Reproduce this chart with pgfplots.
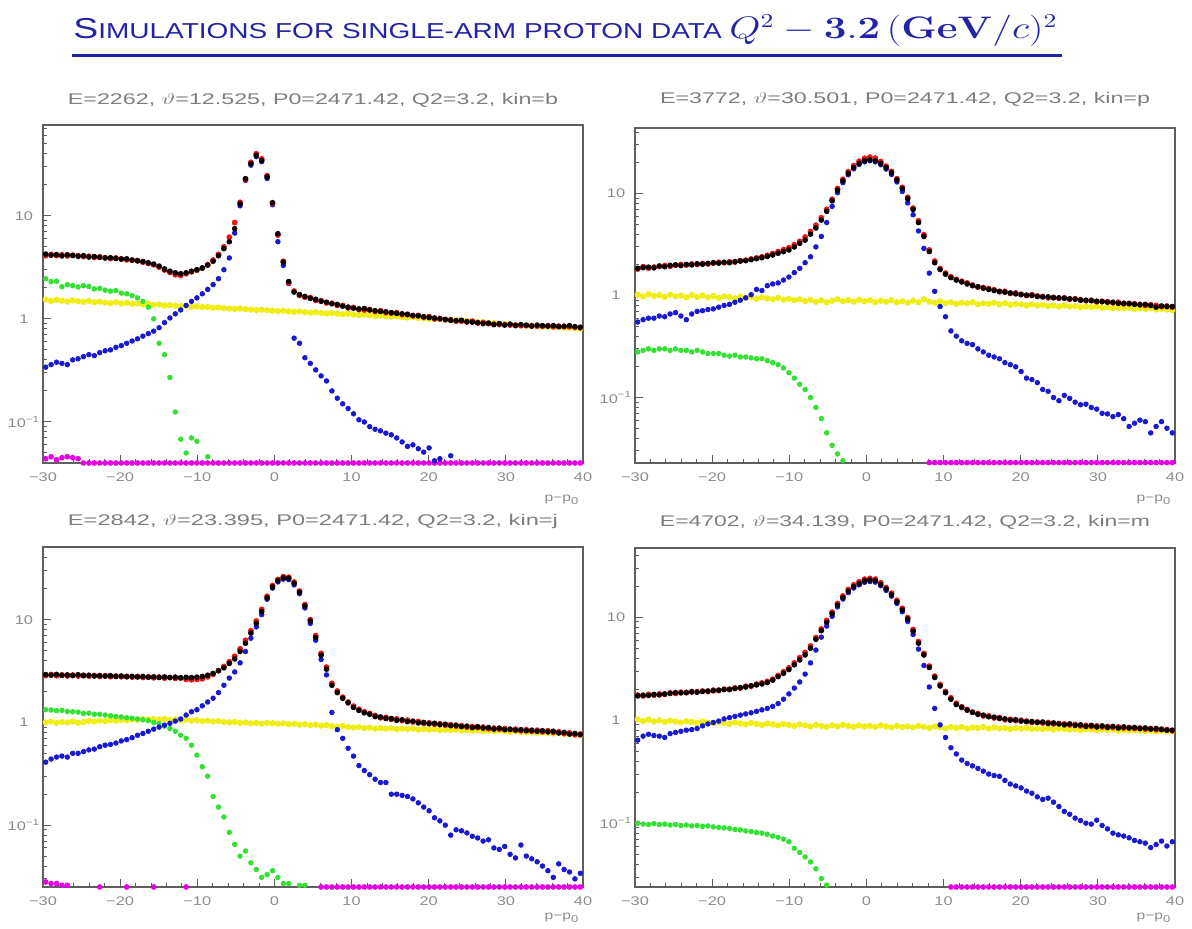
\documentclass[border=0pt]{standalone}
\usepackage{pgfplots}
\usepackage{pgfplotstable}
\pgfplotsset{compat=1.18}
\usepackage[no-math]{fontspec}
\setmainfont{Liberation Sans}
\definecolor{titleblue}{RGB}{35,35,165}
\definecolor{labgray}{RGB}{140,140,140}
\definecolor{subgray}{RGB}{125,125,125}
\definecolor{framegray}{RGB}{95,95,95}
\definecolor{cblk}{RGB}{10,0,0}
\definecolor{cred}{RGB}{240,20,20}
\definecolor{cblu}{RGB}{25,25,210}
\definecolor{cgrn}{RGB}{50,225,50}
\definecolor{cylw}{RGB}{238,238,20}
\definecolor{cmag}{RGB}{230,0,230}
\newcommand{\tl}[1]{\scalebox{1.3}[1]{#1}}
\newcommand{\subt}[1]{\resizebox{245pt}{5.6pt}{\color{subgray}#1}}

\pgfplotstableread{
x k r yl b g m
-29.65 4.25 4.10 1.54 0.34 2.45 0.044
-28.95 4.15 4.22 1.49 0.36 2.30 0.046
-28.25 4.20 4.12 1.53 0.38 2.32 0.043
-27.55 4.08 4.18 1.50 0.37 2.05 0.045
-26.85 4.18 4.08 1.47 0.36 2.15 0.046
-26.15 4.12 4.14 1.51 0.40 2.10 0.045
-25.45 4.05 4.10 1.48 0.41 2.04 0.044
-24.75 4.10 4.02 1.46 0.43 2.10 0.040
-24.05 3.98 4.05 1.49 0.45 2.06 0.040
-23.35 4.02 3.95 1.45 0.44 1.95 0.040
-22.65 3.95 4.00 1.47 0.47 1.98 0.040
-21.95 3.90 3.92 1.44 0.49 1.90 0.040
-21.25 3.92 3.85 1.42 0.50 1.86 0.040
-20.55 3.85 3.90 1.45 0.53 1.88 0.040
-19.85 3.80 3.82 1.41 0.55 1.78 0.040
-19.15 3.82 3.74 1.43 0.58 1.75 0.040
-18.45 3.72 3.70 1.40 0.61 1.68 0.040
-17.75 3.65 3.68 1.41 0.64 1.60 0.040
-17.05 3.60 3.55 1.38 0.68 1.48 0.040
-16.35 3.50 3.45 1.40 0.72 1.30 0.040
-15.65 3.40 3.35 1.37 0.76 1.00 0.040
-14.95 3.25 3.18 1.38 0.82 0.58 0.040
-14.25 3.05 2.98 1.35 0.92 0.45 0.040
-13.55 2.90 2.82 1.36 1.02 0.27 0.040
-12.85 2.80 2.68 1.34 1.12 0.125 0.040
-12.15 2.74 2.64 1.33 1.22 0.068 0.040
-11.45 2.80 2.74 1.34 1.35 0.050 0.040
-10.75 2.90 2.86 1.31 1.48 0.070 0.040
-10.05 3.00 2.96 1.32 1.60 0.065 0.040
-9.35 3.12 3.10 1.30 1.75 nan 0.040
-8.65 3.32 3.36 1.30 1.93 0.046 0.040
-7.95 3.62 3.72 1.28 2.15 nan 0.040
-7.25 4.10 4.22 1.29 2.45 nan 0.040
-6.55 4.80 5.00 1.27 3.00 nan 0.040
-5.85 5.60 6.20 1.26 3.90 nan 0.040
-5.15 7.50 8.60 1.25 6.80 nan 0.040
-4.45 13.1 13.5 1.26 12.5 nan 0.040
-3.75 22.9 22.4 1.24 22.0 nan 0.040
-3.05 32.0 33.0 1.23 31.0 nan 0.040
-2.35 38.5 40.0 1.22 37.5 nan 0.040
-1.65 34.4 35.6 1.23 33.5 nan 0.040
-0.95 23.8 24.5 1.21 23.0 nan 0.040
-0.25 13.4 13.2 1.20 12.8 nan 0.040
0.45 6.70 6.50 1.19 5.60 nan 0.040
1.15 3.55 3.62 1.20 3.30 nan 0.040
1.85 2.30 2.24 1.18 2.20 nan 0.040
2.55 1.82 1.86 1.17 0.65 nan 0.040
3.25 1.72 1.69 1.18 0.58 nan 0.040
3.95 1.65 1.62 1.16 0.42 nan 0.040
4.65 1.58 1.61 1.15 0.37 nan 0.040
5.35 1.55 1.51 1.16 0.32 nan 0.040
6.05 1.48 1.50 1.14 0.28 nan 0.040
6.75 1.45 1.43 1.13 0.25 nan 0.040
7.45 1.40 1.42 1.14 0.20 nan 0.040
8.15 1.38 1.35 1.12 0.17 nan 0.040
8.85 1.33 1.35 1.11 0.15 nan 0.040
9.55 1.30 1.28 1.12 0.135 nan 0.040
10.25 1.27 1.29 1.10 0.12 nan 0.040
10.95 1.25 1.23 1.09 0.105 nan 0.040
11.65 1.26 1.22 1.10 0.10 nan 0.040
12.35 1.22 1.23 1.08 0.09 nan 0.040
13.05 1.20 1.18 1.07 0.085 nan 0.040
13.75 1.18 1.20 1.08 0.082 nan 0.040
14.45 1.17 1.15 1.06 0.078 nan 0.040
15.15 1.15 1.14 1.05 0.075 nan 0.040
15.85 1.13 1.15 1.06 0.070 nan 0.040
16.55 1.12 1.10 1.04 0.064 nan 0.040
17.25 1.10 1.11 1.03 0.058 nan 0.040
17.95 1.08 1.07 1.04 0.060 nan 0.040
18.65 1.07 1.08 1.02 0.055 nan 0.040
19.35 1.05 1.04 1.01 0.051 nan 0.040
20.05 1.03 1.05 1.00 0.056 nan 0.040
20.75 1.02 1.00 1.00 0.042 nan 0.040
21.45 1.00 1.01 0.99 0.044 nan 0.040
22.15 0.99 0.98 0.98 nan nan 0.040
22.85 0.97 0.98 0.97 0.047 nan 0.040
23.55 0.96 0.95 0.97 nan nan 0.040
24.25 0.97 0.95 0.95 nan nan 0.040
24.95 0.94 0.93 0.96 nan nan 0.040
25.65 0.93 0.95 0.94 nan nan 0.040
26.35 0.92 0.91 0.93 nan nan 0.040
27.05 0.90 0.92 0.93 nan nan 0.040
27.75 0.91 0.90 0.91 nan nan 0.040
28.45 0.88 0.89 0.91 nan nan 0.040
29.15 0.90 0.88 0.89 nan nan 0.040
29.85 0.87 0.88 0.89 nan nan 0.040
30.55 0.89 0.87 0.88 nan nan 0.040
31.25 0.86 0.87 0.87 nan nan 0.040
31.95 0.88 0.86 0.87 nan nan 0.040
32.65 0.87 0.86 0.86 nan nan 0.040
33.35 0.85 0.86 0.85 nan nan 0.040
34.05 0.87 0.85 0.85 nan nan 0.040
34.75 0.86 0.85 0.84 nan nan 0.040
35.45 0.85 0.86 0.84 nan nan 0.040
36.15 0.86 0.84 0.83 nan nan 0.040
36.85 0.84 0.85 0.83 nan nan 0.040
37.55 0.85 0.84 0.82 nan nan 0.040
38.25 0.86 0.84 0.82 nan nan 0.040
38.95 0.84 0.83 0.81 nan nan 0.040
39.65 0.83 0.82 0.80 nan nan 0.040
}\TLdata

\pgfplotstableread{
x k r yl b g m
-29.65 1.85 1.82 1.02 0.55 0.28 nan
-28.95 1.88 1.92 0.98 0.58 0.29 nan
-28.25 1.90 1.86 1.03 0.60 0.30 nan
-27.55 1.87 1.90 0.99 0.60 0.29 nan
-26.85 1.95 1.93 1.01 0.63 0.30 nan
-26.15 1.92 1.97 0.97 0.62 0.30 nan
-25.45 1.98 1.94 1.02 0.66 0.29 nan
-24.75 2.00 1.98 0.98 0.68 0.30 nan
-24.05 1.97 2.02 1.00 0.63 0.29 nan
-23.35 2.02 1.99 0.96 0.58 0.29 nan
-22.65 2.00 2.04 1.01 0.66 0.28 nan
-21.95 2.05 2.02 0.97 0.70 0.29 nan
-21.25 2.03 2.06 1.00 0.71 0.28 nan
-20.55 2.07 2.04 0.96 0.73 0.27 nan
-19.85 2.10 2.08 0.99 0.74 0.27 nan
-19.15 2.08 2.12 0.95 0.77 0.27 nan
-18.45 2.12 2.10 0.98 0.80 0.26 nan
-17.75 2.10 2.14 0.97 0.82 0.255 nan
-17.05 2.15 2.13 0.94 0.86 0.26 nan
-16.35 2.18 2.20 0.98 0.90 0.25 nan
-15.65 2.20 2.22 0.95 0.95 0.25 nan
-14.95 2.25 2.28 0.97 1.02 0.245 nan
-14.25 2.30 2.34 0.93 1.15 0.24 nan
-13.55 2.35 2.40 0.96 1.12 0.24 nan
-12.85 2.42 2.48 0.94 1.25 0.23 nan
-12.15 2.50 2.58 0.92 1.30 0.22 nan
-11.45 2.60 2.70 0.95 1.33 0.21 nan
-10.75 2.70 2.82 0.91 1.42 0.195 nan
-10.05 2.80 2.95 0.93 1.52 0.175 nan
-9.35 3.00 3.15 0.90 1.68 0.155 nan
-8.65 3.25 3.40 0.92 1.85 0.135 nan
-7.95 3.50 3.75 0.88 2.10 0.12 nan
-7.25 4.00 4.25 0.91 2.40 0.10 nan
-6.55 4.60 4.90 0.87 3.00 0.08 nan
-5.85 5.50 5.80 0.90 3.80 0.062 nan
-5.15 6.70 7.00 0.86 5.20 0.045 nan
-4.45 8.50 8.80 0.89 7.50 0.034 nan
-3.75 10.8 11.2 0.92 10.2 0.028 nan
-3.05 13.3 13.8 0.88 12.8 0.024 nan
-2.35 15.8 16.4 0.90 15.3 nan nan
-1.65 18.0 18.8 0.87 17.5 nan nan
-0.95 19.8 20.8 0.91 19.3 nan nan
-0.25 21.0 22.2 0.88 20.5 nan nan
0.45 21.5 22.8 0.90 21.0 nan nan
1.15 21.0 22.3 0.86 20.5 nan nan
1.85 19.8 20.6 0.89 19.2 nan nan
2.55 18.0 18.6 0.87 17.4 nan nan
3.25 16.0 16.5 0.90 15.4 nan nan
3.95 13.6 14.0 0.86 13.0 nan nan
4.65 11.2 11.5 0.88 10.5 nan nan
5.35 8.90 9.20 0.85 8.10 nan nan
6.05 7.00 7.20 0.89 6.20 nan nan
6.75 5.20 5.40 0.86 4.30 nan nan
7.45 3.80 3.95 0.92 2.90 nan nan
8.15 2.70 2.80 0.87 1.66 nan 0.023
8.85 2.10 2.18 0.85 1.10 nan 0.023
9.55 1.80 1.84 0.88 0.78 nan 0.023
10.25 1.62 1.66 0.84 0.62 nan 0.023
10.95 1.50 1.53 0.86 0.45 nan 0.023
11.65 1.42 1.44 0.83 0.40 nan 0.023
12.35 1.36 1.38 0.85 0.36 nan 0.023
13.05 1.30 1.33 0.84 0.34 nan 0.023
13.75 1.25 1.27 0.86 0.33 nan 0.023
14.45 1.22 1.21 0.82 0.30 nan 0.023
15.15 1.18 1.20 0.84 0.28 nan 0.023
15.85 1.15 1.17 0.83 0.26 nan 0.023
16.55 1.12 1.14 0.85 0.25 nan 0.023
17.25 1.10 1.09 0.82 0.24 nan 0.023
17.95 1.08 1.10 0.84 0.22 nan 0.023
18.65 1.06 1.05 0.81 0.21 nan 0.023
19.35 1.04 1.06 0.83 0.20 nan 0.023
20.05 1.02 1.03 0.82 0.18 nan 0.023
20.75 1.01 1.00 0.80 0.155 nan 0.023
21.45 1.00 1.02 0.82 0.15 nan 0.023
22.15 0.98 0.99 0.80 0.14 nan 0.023
22.85 0.97 0.98 0.81 0.12 nan 0.023
23.55 0.97 0.95 0.79 0.115 nan 0.023
24.25 0.95 0.96 0.80 0.10 nan 0.023
24.95 0.95 0.94 0.78 0.093 nan 0.023
25.65 0.94 0.95 0.80 0.105 nan 0.023
26.35 0.93 0.92 0.78 0.098 nan 0.023
27.05 0.92 0.93 0.79 0.09 nan 0.023
27.75 0.90 0.91 0.77 0.085 nan 0.023
28.45 0.90 0.89 0.78 0.086 nan 0.023
29.15 0.89 0.90 0.77 0.08 nan 0.023
29.85 0.88 0.87 0.78 0.077 nan 0.023
30.55 0.87 0.88 0.76 0.07 nan 0.023
31.25 0.86 0.87 0.77 0.069 nan 0.023
31.95 0.86 0.85 0.75 0.065 nan 0.023
32.65 0.84 0.86 0.76 0.068 nan 0.023
33.35 0.84 0.83 0.75 0.062 nan 0.023
34.05 0.83 0.84 0.76 0.052 nan 0.023
34.75 0.82 0.83 0.74 0.056 nan 0.023
35.45 0.81 0.82 0.75 0.06 nan 0.023
36.15 0.82 0.80 0.74 0.058 nan 0.023
36.85 0.80 0.81 0.75 0.045 nan 0.023
37.55 0.77 0.80 0.73 0.052 nan 0.023
38.25 0.79 0.78 0.74 0.058 nan 0.023
38.95 0.78 0.79 0.73 0.05 nan 0.023
39.65 0.78 0.77 0.72 0.045 nan 0.023
}\TRdata

\pgfplotstableread{
x k r yl b g m
-29.65 2.92 2.86 1.00 0.41 1.33 0.028
-28.95 2.88 2.92 1.02 0.44 1.32 0.027
-28.25 2.93 2.85 0.99 0.46 1.30 0.027
-27.55 2.87 2.90 1.01 0.47 1.31 0.026
-26.85 2.90 2.84 1.00 0.46 1.28 0.026
-26.15 2.86 2.89 1.02 0.50 1.27 nan
-25.45 2.91 2.83 0.99 0.50 1.26 nan
-24.75 2.85 2.88 1.01 0.52 1.22 nan
-24.05 2.88 2.82 1.03 0.54 1.23 nan
-23.35 2.83 2.86 1.02 0.55 1.20 nan
-22.65 2.86 2.80 1.04 0.58 1.20 0.025
-21.95 2.82 2.85 1.03 0.60 1.18 nan
-21.25 2.85 2.79 1.05 0.61 1.16 nan
-20.55 2.80 2.83 1.04 0.63 1.14 nan
-19.85 2.83 2.78 1.06 0.66 1.13 nan
-19.15 2.78 2.81 1.05 0.68 1.11 0.025
-18.45 2.81 2.76 1.07 0.71 1.10 nan
-17.75 2.77 2.80 1.06 0.75 1.08 nan
-17.05 2.80 2.74 1.08 0.78 1.06 nan
-16.35 2.75 2.78 1.07 0.82 1.04 nan
-15.65 2.78 2.72 1.08 0.86 1.00 0.025
-14.95 2.74 2.76 1.07 0.90 0.97 nan
-14.25 2.77 2.70 1.08 0.94 0.92 nan
-13.55 2.73 2.74 1.06 0.98 0.87 nan
-12.85 2.76 2.68 1.07 1.03 0.82 nan
-12.15 2.72 2.70 1.05 1.08 0.75 nan
-11.45 2.75 2.62 1.06 1.18 0.70 0.025
-10.75 2.73 2.60 1.04 1.27 0.60 nan
-10.05 2.76 2.62 1.05 1.33 0.48 nan
-9.35 2.80 2.66 1.03 1.45 0.37 nan
-8.65 2.88 2.78 1.04 1.58 0.30 nan
-7.95 3.00 2.94 1.02 1.72 0.19 nan
-7.25 3.18 3.20 1.03 1.95 0.15 nan
-6.55 3.40 3.50 1.01 2.30 0.12 nan
-5.85 3.75 3.90 1.00 2.70 0.085 nan
-5.15 4.15 4.40 1.01 3.10 0.065 nan
-4.45 4.90 5.20 0.99 3.80 0.050 nan
-3.75 5.90 6.30 1.00 4.90 0.056 nan
-3.05 7.40 7.80 0.98 6.60 0.043 nan
-2.35 9.20 9.70 0.99 8.50 0.037 nan
-1.65 12.0 12.6 0.97 11.2 0.031 nan
-0.95 16.3 16.9 0.99 15.8 0.033 nan
-0.25 20.8 21.5 0.98 20.3 0.036 nan
0.45 24.0 24.6 0.97 23.3 0.031 nan
1.15 25.5 26.2 0.98 24.8 0.027 nan
1.85 25.3 25.9 0.96 24.5 0.027 nan
2.55 22.6 23.2 0.97 21.8 nan nan
3.25 18.5 19.0 0.95 17.9 0.026 nan
3.95 13.6 14.0 0.96 13.0 0.026 nan
4.65 9.70 10.0 0.94 9.20 nan nan
5.35 6.70 7.00 0.95 6.30 nan nan
6.05 4.50 4.70 0.93 4.10 nan 0.025
6.75 3.30 3.45 0.94 2.90 nan 0.025
7.45 2.30 2.40 0.92 1.25 nan 0.025
8.15 1.95 2.02 0.91 0.85 nan 0.025
8.85 1.72 1.76 0.92 0.70 nan 0.025
9.55 1.55 1.58 0.90 0.56 nan 0.025
10.25 1.40 1.44 0.89 0.47 nan 0.025
10.95 1.31 1.34 0.90 0.38 nan 0.025
11.65 1.24 1.27 0.88 0.34 nan 0.025
12.35 1.20 1.22 0.89 0.31 nan 0.025
13.05 1.14 1.17 0.87 0.28 nan 0.025
13.75 1.13 1.11 0.88 0.26 nan 0.025
14.45 1.09 1.12 0.87 0.26 nan 0.025
15.15 1.09 1.07 0.88 0.20 nan 0.025
15.85 1.05 1.08 0.86 0.20 nan 0.025
16.55 1.06 1.04 0.87 0.195 nan 0.025
17.25 1.02 1.05 0.86 0.19 nan 0.025
17.95 1.03 1.01 0.87 0.18 nan 0.025
18.65 0.99 1.02 0.85 0.165 nan 0.025
19.35 1.00 0.98 0.86 0.15 nan 0.025
20.05 0.97 0.99 0.85 0.138 nan 0.025
20.75 0.98 0.96 0.86 0.118 nan 0.025
21.45 0.95 0.97 0.84 0.11 nan 0.025
22.15 0.96 0.94 0.85 0.10 nan 0.025
22.85 0.93 0.95 0.84 0.08 nan 0.025
23.55 0.94 0.92 0.85 0.09 nan 0.025
24.25 0.91 0.93 0.83 0.088 nan 0.025
24.95 0.92 0.90 0.84 0.084 nan 0.025
25.65 0.89 0.91 0.83 0.078 nan 0.025
26.35 0.91 0.89 0.84 0.075 nan 0.025
27.05 0.88 0.90 0.82 0.07 nan 0.025
27.75 0.89 0.87 0.83 0.072 nan 0.025
28.45 0.86 0.88 0.82 0.06 nan 0.025
29.15 0.88 0.86 0.83 0.058 nan 0.025
29.85 0.85 0.87 0.82 0.062 nan 0.025
30.55 0.86 0.85 0.81 0.052 nan 0.025
31.25 0.84 0.86 0.82 0.048 nan 0.025
31.95 0.85 0.83 0.81 0.064 nan 0.025
32.65 0.83 0.85 0.80 0.05 nan 0.025
33.35 0.84 0.82 0.81 0.047 nan 0.025
34.05 0.82 0.84 0.79 0.044 nan 0.025
34.75 0.83 0.81 0.80 0.04 nan 0.025
35.45 0.81 0.83 0.79 0.036 nan 0.025
36.15 0.82 0.80 0.78 0.031 nan 0.025
36.85 0.79 0.81 0.79 0.042 nan 0.025
37.55 0.80 0.78 0.77 0.037 nan 0.025
38.25 0.77 0.79 0.77 0.035 nan 0.025
38.95 0.78 0.76 0.76 0.03 nan 0.025
39.65 0.76 0.77 0.75 0.034 nan 0.025
}\BLdata

\pgfplotstableread{
x k r yl b g m
-29.65 1.72 1.75 1.02 0.64 0.100 nan
-28.95 1.75 1.72 0.98 0.70 0.098 nan
-28.25 1.74 1.78 1.01 0.73 0.097 nan
-27.55 1.78 1.75 0.97 0.71 0.099 nan
-26.85 1.76 1.80 1.00 0.70 0.097 nan
-26.15 1.80 1.78 0.96 0.68 0.098 nan
-25.45 1.82 1.84 0.99 0.74 0.096 nan
-24.75 1.85 1.82 0.97 0.76 0.097 nan
-24.05 1.84 1.87 0.95 0.78 0.095 nan
-23.35 1.86 1.85 0.98 0.80 0.096 nan
-22.65 1.88 1.90 0.96 0.81 0.094 nan
-21.95 1.87 1.89 0.94 0.83 0.095 nan
-21.25 1.90 1.92 0.97 0.88 0.093 nan
-20.55 1.92 1.90 0.95 0.92 0.094 nan
-19.85 1.93 1.96 0.93 0.95 0.092 nan
-19.15 1.96 1.94 0.96 0.98 0.091 nan
-18.45 1.98 2.00 0.94 1.03 0.090 nan
-17.75 2.00 1.98 0.92 1.06 0.089 nan
-17.05 2.03 2.06 0.95 1.09 0.087 nan
-16.35 2.07 2.05 0.93 1.12 0.086 nan
-15.65 2.10 2.14 0.91 1.15 0.084 nan
-14.95 2.16 2.14 0.94 1.18 0.083 nan
-14.25 2.20 2.24 0.92 1.22 0.081 nan
-13.55 2.25 2.30 0.90 1.26 0.080 nan
-12.85 2.32 2.38 0.93 1.30 0.078 nan
-12.15 2.45 2.50 0.91 1.36 0.075 nan
-11.45 2.65 2.72 0.89 1.45 0.073 nan
-10.75 2.85 2.95 0.92 1.60 0.070 nan
-10.05 3.10 3.22 0.90 1.80 0.066 nan
-9.35 3.45 3.60 0.88 2.05 0.057 nan
-8.65 3.85 4.05 0.91 2.35 0.052 nan
-7.95 4.30 4.55 0.89 2.80 0.047 nan
-7.25 5.00 5.25 0.87 3.60 0.042 nan
-6.55 6.10 6.35 0.90 4.80 0.036 nan
-5.85 7.40 7.70 0.88 6.40 0.029 nan
-5.15 8.90 9.30 0.86 8.20 0.025 nan
-4.45 10.8 11.2 0.89 10.2 nan nan
-3.75 13.1 13.6 0.87 12.6 nan nan
-3.05 15.5 16.1 0.90 15.0 nan nan
-2.35 17.9 18.6 0.88 17.3 nan nan
-1.65 19.8 20.6 0.86 19.2 nan nan
-0.95 21.2 22.1 0.89 20.6 nan nan
-0.25 22.5 23.4 0.87 21.8 nan nan
0.45 22.9 23.8 0.88 22.2 nan nan
1.15 22.6 23.4 0.86 21.9 nan nan
1.85 20.8 21.6 0.89 20.2 nan nan
2.55 18.8 19.4 0.87 18.2 nan nan
3.25 16.6 17.1 0.85 16.0 nan nan
3.95 14.1 14.6 0.88 13.6 nan nan
4.65 11.8 12.2 0.86 11.3 nan nan
5.35 9.60 9.90 0.87 9.10 nan nan
6.05 7.30 7.60 0.85 6.80 nan nan
6.75 5.60 5.80 0.88 4.90 nan nan
7.45 4.30 4.45 0.86 3.40 nan nan
8.15 3.25 3.35 0.84 2.10 nan nan
8.85 2.60 2.68 0.87 1.30 nan nan
9.55 2.15 2.22 0.85 0.90 nan nan
10.25 1.85 1.90 0.83 0.68 nan nan
10.95 1.60 1.65 0.86 0.54 nan 0.024
11.65 1.42 1.46 0.84 0.47 nan 0.024
12.35 1.33 1.35 0.86 0.41 nan 0.024
13.05 1.25 1.27 0.83 0.38 nan 0.024
13.75 1.19 1.20 0.85 0.36 nan 0.024
14.45 1.14 1.16 0.84 0.34 nan 0.024
15.15 1.12 1.10 0.86 0.32 nan 0.024
15.85 1.08 1.10 0.83 0.30 nan 0.024
16.55 1.07 1.05 0.85 0.29 nan 0.024
17.25 1.04 1.06 0.83 0.285 nan 0.024
17.95 1.03 1.01 0.84 0.26 nan 0.024
18.65 1.00 1.02 0.82 0.24 nan 0.024
19.35 1.01 0.99 0.84 0.23 nan 0.024
20.05 0.98 1.00 0.83 0.22 nan 0.024
20.75 0.97 0.98 0.84 0.205 nan 0.024
21.45 0.97 0.95 0.82 0.195 nan 0.024
22.15 0.95 0.96 0.83 0.18 nan 0.024
22.85 0.96 0.94 0.82 0.17 nan 0.024
23.55 0.93 0.95 0.83 0.175 nan 0.024
24.25 0.94 0.92 0.81 0.16 nan 0.024
24.95 0.92 0.93 0.83 0.145 nan 0.024
25.65 0.90 0.92 0.82 0.13 nan 0.024
26.35 0.92 0.90 0.81 0.122 nan 0.024
27.05 0.89 0.91 0.82 0.112 nan 0.024
27.75 0.90 0.88 0.80 0.106 nan 0.024
28.45 0.87 0.89 0.82 0.10 nan 0.024
29.15 0.89 0.87 0.81 0.098 nan 0.024
29.85 0.86 0.88 0.80 0.107 nan 0.024
30.55 0.88 0.86 0.81 0.095 nan 0.024
31.25 0.85 0.87 0.80 0.088 nan 0.024
31.95 0.87 0.85 0.81 0.08 nan 0.024
32.65 0.84 0.86 0.79 0.077 nan 0.024
33.35 0.86 0.84 0.80 0.075 nan 0.024
34.05 0.84 0.85 0.79 0.072 nan 0.024
34.75 0.85 0.83 0.80 0.068 nan 0.024
35.45 0.83 0.84 0.79 0.066 nan 0.024
36.15 0.84 0.82 0.78 0.064 nan 0.024
36.85 0.82 0.83 0.79 0.058 nan 0.024
37.55 0.83 0.81 0.78 0.062 nan 0.024
38.25 0.81 0.82 0.79 0.067 nan 0.024
38.95 0.80 0.81 0.78 0.06 nan 0.024
39.65 0.80 0.79 0.78 0.066 nan 0.024
}\BRdata

\pgfplotsset{
  rootax/.style={
    scale only axis, width=270pt,
    xmin=-30, xmax=40,
    axis line style={draw=framegray, line width=0.6pt},
    tick align=inside, tick pos=left,
    major tick length=4pt, minor tick length=2pt,
    tick style={draw=framegray, line width=0.5pt},
    xtick={-30,-20,-10,0,10,20,30,40}, minor x tick num=4,
    xticklabels={\tl{−30},\tl{−20},\tl{−10},\tl{0},\tl{10},\tl{20},\tl{30},\tl{40}},
    ytick={0.1,1,10},
    yticklabels={\tl{10\textsuperscript{−1}},\tl{1},\tl{10}},
    minor ytick={0.02,0.03,0.04,0.05,0.06,0.07,0.08,0.09,0.2,0.3,0.4,0.5,0.6,0.7,0.8,0.9,2,3,4,5,6,7,8,9,20,30,40,50,60,70},
    ticklabel style={font=\fontsize{6.3}{7}\selectfont, text=labgray},
    xticklabel style={anchor=center, yshift=-7pt},
    yticklabel style={anchor=center, xshift=-9.5pt},
  },
  pylw/.style={only marks, mark=*, mark size=1.35pt, color=cylw},
  pmag/.style={only marks, mark=*, mark size=1.2pt, color=cmag},
  pgrn/.style={only marks, mark=*, mark size=1.15pt, color=cgrn},
  pblu/.style={only marks, mark=*, mark size=1.15pt, color=cblu},
  pred/.style={only marks, mark=*, mark size=1.25pt, color=cred},
  pblk/.style={only marks, mark=*, mark size=1.2pt, color=cblk},
}
\newcommand{\allplots}[1]{%
  \addplot[pylw] table[x=x,y=yl]{#1};
  \addplot[pmag] table[x=x,y=m]{#1};
  \addplot[pgrn] table[x=x,y=g]{#1};
  \addplot[pblu] table[x=x,y=b]{#1};
  \addplot[pred] table[x=x,y=r]{#1};
  \addplot[pblk] table[x=x,y=k]{#1};
}
\newcommand{\pplabel}{\scalebox{1.3}[1]{\fontsize{6}{7}\selectfont\color{labgray}p−p\textsubscript{0}}}

\begin{document}
\begin{tikzpicture}
\useasboundingbox (0pt,0pt) rectangle (596pt,464.5pt);
% title
\node[anchor=base west, inner sep=0pt] at (36.5pt,445pt) {\resizebox{492pt}{12pt}{\color{titleblue}\fontsize{16}{18}\selectfont S\fontsize{12}{14}\selectfont IMULATIONS FOR SINGLE-ARM PROTON DATA \fontsize{16}{18}\selectfont$Q^2-\mathbf{3.2}\,(\mathbf{GeV}/c)^2$}};
\draw[titleblue, line width=1.5pt] (36pt,436.5pt) -- (531pt,436.5pt);

% subtitles
\node at (156.5pt,414.5pt) {\subt{E=2262, $\vartheta$=12.525, P0=2471.42, Q2=3.2, kin=b}};
\node at (452.5pt,414.5pt) {\subt{E=3772, $\vartheta$=30.501, P0=2471.42, Q2=3.2, kin=p}};
\node at (156.5pt,203.5pt) {\subt{E=2842, $\vartheta$=23.395, P0=2471.42, Q2=3.2, kin=j}};
\node at (452.5pt,203.5pt) {\subt{E=4702, $\vartheta$=34.139, P0=2471.42, Q2=3.2, kin=m}};

% p-p0 labels
\node[anchor=east, inner sep=0pt] at (290pt,214.5pt) {\pplabel};
\node[anchor=east, inner sep=0pt] at (586pt,214.5pt) {\pplabel};
\node[anchor=east, inner sep=0pt] at (290pt,5.5pt) {\pplabel};
\node[anchor=east, inner sep=0pt] at (586pt,5.5pt) {\pplabel};

\begin{semilogyaxis}[rootax, at={(21.5pt,233pt)}, anchor=south west, height=169pt, ymin=0.04, ymax=76]
\allplots{\TLdata}
\end{semilogyaxis}
\begin{semilogyaxis}[rootax, at={(317.5pt,233pt)}, anchor=south west, height=167.5pt, ymin=0.0228, ymax=44]
\allplots{\TRdata}
\end{semilogyaxis}
\begin{semilogyaxis}[rootax, at={(21.5pt,21pt)}, anchor=south west, height=170pt, ymin=0.025, ymax=51]
\allplots{\BLdata}
\end{semilogyaxis}
\begin{semilogyaxis}[rootax, at={(317.5pt,21pt)}, anchor=south west, height=169.5pt, ymin=0.024, ymax=47]
\allplots{\BRdata}
\end{semilogyaxis}
\end{tikzpicture}
\end{document}
